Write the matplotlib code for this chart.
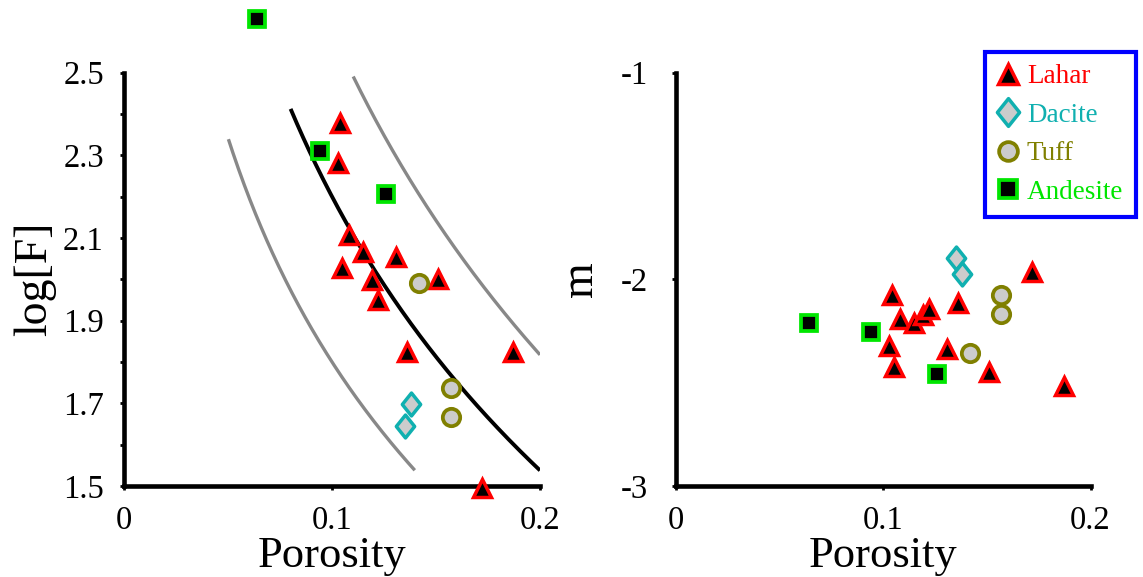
import matplotlib.pyplot as plt
from matplotlib.lines import Line2D
from matplotlib.path import Path
import numpy as np

plt.rcParams['font.family'] = ['Liberation Serif', 'DejaVu Serif']
plt.rcParams['axes.unicode_minus'] = False

# porosity / log formation factor / cementation exponent
lahar_por = [0.103, 0.104, 0.105, 0.108, 0.115, 0.119, 0.122, 0.131, 0.136, 0.151, 0.172, 0.187]
lahar_logf = [2.281, 2.377, 2.028, 2.108, 2.067, 1.997, 1.950, 2.055, 1.825, 2.000, 1.496, 1.825]
lahar_m = [-2.323, -2.074, -2.425, -2.190, -2.213, -2.172, -2.142, -2.336, -2.115, -2.451, -1.967, -2.516]

dacite_por = [0.135, 0.138]
dacite_logf = [1.644, 1.698]
dacite_m = [-1.896, -1.976]

tuff_por = [0.142, 0.157, 0.157]
tuff_logf = [1.992, 1.738, 1.667]
tuff_m = [-2.355, -2.077, -2.167]

andesite_por = [0.064, 0.094, 0.126]
andesite_logf = [2.629, 2.309, 2.205]
andesite_m = [-2.211, -2.256, -2.457]

# Archie curves log F = -m log(phi): exponent, porosity range, colour
archie_m = [1.8, 2.2, 2.6]
archie_range = [(0.0502, 0.1398), (0.0801, 0.2), (0.1102, 0.2)]
archie_color = ['#888888', 'black', '#888888']

xticks = [0, 0.1, 0.2]
xticklabels = ['0', '0.1', '0.2']
f_ticks = [1.5, 1.7, 1.9, 2.1, 2.3, 2.5]
m_ticks = [-3, -2, -1]
names = ['Lahar', 'Dacite', 'Tuff', 'Andesite']

thin_diamond = Path([(0, -1), (0.8, 0), (0, 1), (-0.8, 0), (0, -1)],
                    [Path.MOVETO, Path.LINETO, Path.LINETO, Path.LINETO, Path.CLOSEPOLY])

styles = {
    'Lahar': dict(marker='^', markersize=13, markerfacecolor='black',
                  markeredgecolor='#ff0000', markeredgewidth=2.5),
    'Dacite': dict(marker=thin_diamond, markersize=16.5, markerfacecolor='#cccccc',
                   markeredgecolor='#10b0b0', markeredgewidth=2.5),
    'Tuff': dict(marker='o', markersize=12.5, markerfacecolor='#cccccc',
                 markeredgecolor='#808000', markeredgewidth=2.7),
    'Andesite': dict(marker='s', markersize=12, markerfacecolor='black',
                     markeredgecolor='#00e600', markeredgewidth=2.7),
}

fig = plt.figure(figsize=(11.43, 5.77), dpi=100)
ax1 = fig.add_axes([124 / 1143, 91 / 577, 416 / 1143, 413.5 / 577])
ax2 = fig.add_axes([676 / 1143, 91 / 577, 414.5 / 1143, 413.5 / 577])

for mm, (lo, hi), c in zip(archie_m, archie_range, archie_color):
    phi = np.linspace(lo, hi, 200)
    ax1.plot(phi, -mm * np.log10(phi), color=c, lw=2.8 if c == 'black' else 2.4,
             zorder=3, solid_capstyle='butt')

sets = [('Lahar', lahar_por, lahar_logf, lahar_m),
        ('Andesite', andesite_por, andesite_logf, andesite_m),
        ('Tuff', tuff_por, tuff_logf, tuff_m),
        ('Dacite', dacite_por, dacite_logf, dacite_m)]
for name, por, lf, m in sets:
    ax1.plot(por, lf, linestyle='none', clip_on=False, zorder=4, **styles[name])
    ax2.plot(por, m, linestyle='none', clip_on=False, zorder=4, **styles[name])

for ax in (ax1, ax2):
    ax.set_xlim(0, 0.2)
    ax.set_xticks(xticks)
    ax.set_xticklabels(xticklabels)
    for s in ('top', 'right'):
        ax.spines[s].set_visible(False)
    for s in ('left', 'bottom'):
        ax.spines[s].set_linewidth(3.3)
    ax.tick_params(direction='out', length=3, width=2, labelsize=23.5)
    ax.tick_params(axis='x', pad=11)
    ax.set_xlabel('Porosity', fontsize=32, labelpad=0)

ax1.set_ylim(1.5, 2.5)
ax1.set_yticks(f_ticks)
ax1.set_yticklabels([f'{v:.1f}' for v in f_ticks])
ax1.set_yticks(np.round(np.arange(1.6, 2.5, 0.2), 1), minor=True)
ax1.tick_params(axis='y', which='both', direction='out', length=3, width=2, pad=11.5)
ax1.set_ylabel('log[F]', fontsize=33, labelpad=5)

ax2.set_ylim(-3, -1)
ax2.set_yticks(m_ticks)
ax2.set_yticklabels([str(v) for v in m_ticks])
ax2.tick_params(axis='y', pad=17)
ax2.set_ylabel('m', fontsize=33, labelpad=14)

handles = []
for n in names:
    st = dict(styles[n])
    if n == 'Dacite':
        st['markersize'] = 20
    else:
        st['markersize'] = st['markersize'] + 1
    handles.append(Line2D([], [], linestyle='none', **st))
leg = fig.legend(handles, names, loc='upper left',
                 bbox_to_anchor=(985 / 1143, 1 - 52 / 577), fontsize=19.5, fancybox=False,
                 edgecolor='#0000ff', framealpha=1, labelcolor='markeredgecolor',
                 borderpad=0.45, handlelength=0.8, handletextpad=0.3, labelspacing=0.5,
                 borderaxespad=0, numpoints=1)
leg.get_frame().set_linewidth(3)

fig.savefig('out.png', dpi=100)
